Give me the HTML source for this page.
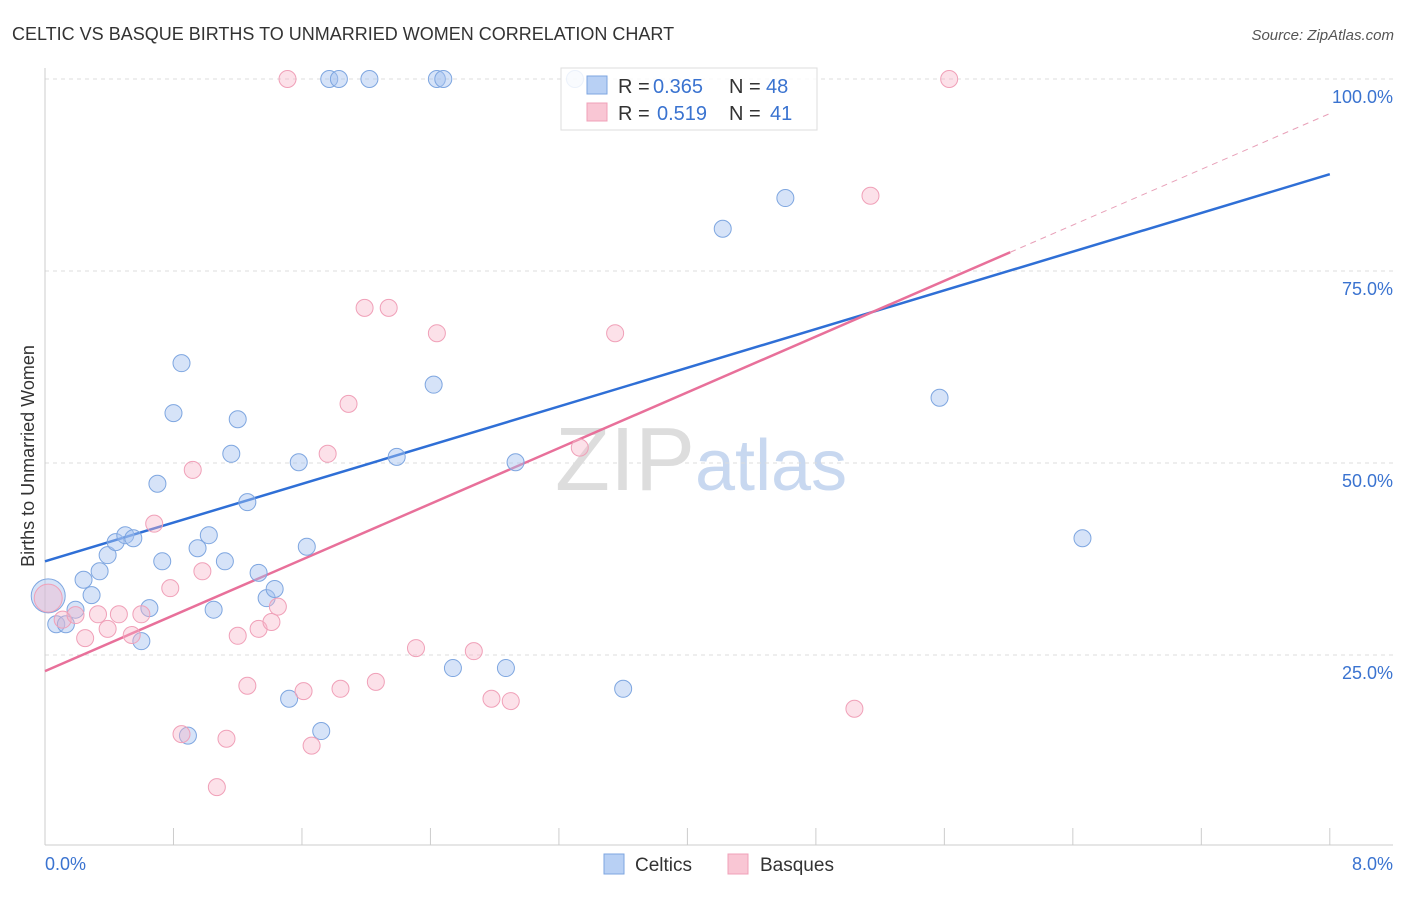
<!DOCTYPE html>
<html><head><meta charset="utf-8"><style>
body{margin:0;background:#fff;font-family:"Liberation Sans",sans-serif;}
svg text{font-family:"Liberation Sans",sans-serif;}
</style></head><body>
<svg id="chart" width="1406" height="892" xmlns="http://www.w3.org/2000/svg">
<text x="12" y="40" font-size="18" fill="#333">CELTIC VS BASQUE BIRTHS TO UNMARRIED WOMEN CORRELATION CHART</text>
<text x="1394" y="40" font-size="15" fill="#555" text-anchor="end" font-style="italic">Source: ZipAtlas.com</text>
<text x="555" y="490" font-size="90" fill="#ddd" font-family="Liberation Serif,serif">ZIP<tspan fill="#c8d8f0" font-family="Liberation Sans,sans-serif" font-size="72">atlas</tspan></text>
<g id="grid"></g>
<g id="axes"></g>
<g id="lines"></g>
<g id="points"></g>
<g>
<rect x="561" y="68" width="256" height="62" fill="rgba(255,255,255,0.85)" stroke="#ddd"/>
<rect x="587" y="76" width="20" height="18" fill="#b8d0f4" stroke="#7ea6e0"/>
<rect x="587" y="103" width="20" height="18" fill="#f9c6d4" stroke="#f0a0b8"/>
<text x="618" y="93" font-size="20" fill="#333">R =</text>
<text x="653" y="93" font-size="20" fill="#3a73d0">0.365</text>
<text x="729" y="93" font-size="20" fill="#333">N =</text>
<text x="766" y="93" font-size="20" fill="#3a73d0">48</text>
<text x="618" y="120" font-size="20" fill="#333">R =</text>
<text x="657" y="120" font-size="20" fill="#3a73d0">0.519</text>
<text x="729" y="120" font-size="20" fill="#333">N =</text>
<text x="770" y="120" font-size="20" fill="#3a73d0">41</text>
</g>
<g>
<rect x="604" y="854" width="20" height="20" fill="#b8d0f4" stroke="#7ea6e0"/>
<text x="635" y="871" font-size="19" fill="#333">Celtics</text>
<rect x="728" y="854" width="20" height="20" fill="#f9c6d4" stroke="#f0a0b8"/>
<text x="760" y="871" font-size="19" fill="#333">Basques</text>
</g>
<text transform="translate(34,456) rotate(-90)" font-size="18" fill="#333" text-anchor="middle">Births to Unmarried Women</text>
<text x="45" y="870" font-size="18" fill="#3a73d0">0.0%</text>
<text x="1393" y="870" font-size="18" fill="#3a73d0" text-anchor="end">8.0%</text>
</svg>
<script>
const yTicks=[100,75,50,25];
const yTickLabels=["100.0%","75.0%","50.0%","25.0%"];
const xTicks=[0,0.8,1.6,2.4,3.2,4.0,4.8,5.6,6.4,7.2,8.0];
const celticX=[0.02,0.07,0.13,0.19,0.24,0.29,0.34,0.39,0.44,0.50,0.55,0.60,0.65,0.70,0.73,0.80,0.85,0.89,0.95,1.02,1.05,1.12,1.16,1.20,1.26,1.33,1.38,1.43,1.52,1.58,1.63,1.72,1.77,1.83,2.02,2.19,2.42,2.44,2.48,2.54,2.87,2.93,3.30,3.60,4.22,4.61,5.57,6.46];
const celticY=[32.7,29.0,29.0,30.9,34.8,32.8,35.9,38.0,39.7,40.6,40.2,26.8,31.1,47.3,37.2,56.5,63.0,14.5,38.9,40.6,30.9,37.2,51.2,55.7,44.9,35.7,32.4,33.6,19.3,50.1,39.1,15.1,100,100,100,50.8,60.2,100,100,23.3,23.3,50.1,100,20.6,80.5,84.5,58.5,40.2];
const basqueX=[0.02,0.11,0.19,0.25,0.33,0.39,0.46,0.54,0.60,0.68,0.78,0.85,0.92,0.98,1.07,1.13,1.20,1.26,1.33,1.41,1.45,1.51,1.61,1.66,1.76,1.84,1.89,1.99,2.06,2.14,2.31,2.44,2.67,2.78,2.90,3.33,3.55,5.04,5.14,5.63];
const basqueY=[32.4,29.6,30.2,27.2,30.3,28.4,30.3,27.6,30.3,42.1,33.7,14.7,49.1,35.9,7.8,14.1,27.5,21.0,28.4,29.3,31.3,100,20.3,13.2,51.2,20.6,57.7,70.2,21.5,70.2,25.9,66.9,25.5,19.3,19.0,52.0,66.9,18.0,84.8,100];
const celticTrend=[37.2,87.6];
const basqueTrend=[22.9,95.5];
const basqueSolidEnd=6.01;

const NS="http://www.w3.org/2000/svg";
const X=v=>45+v*160.6, Y=v=>847-v*7.68;
function mk(tag,attrs,parent){const e=document.createElementNS(NS,tag);for(const k in attrs)e.setAttribute(k,attrs[k]);parent.appendChild(e);return e;}
const grid=document.getElementById('grid'),axes=document.getElementById('axes'),lines=document.getElementById('lines'),pts=document.getElementById('points');
yTicks.forEach((t,i)=>{
 const l=mk('line',{x1:45,x2:1393,y1:Y(t),y2:Y(t),stroke:'#ddd','stroke-dasharray':'4,4'},grid);
 
 
 const tx=mk('text',{x:1393,y:Y(t)+24,'font-size':18,fill:'#3a73d0','text-anchor':'end'},grid);
 tx.textContent=yTickLabels[i];
 
 
});
const ax=mk('line',{x1:45,x2:1393,y1:845,y2:845,stroke:'#ccc'},axes);


const ay=mk('line',{x1:45,x2:45,y1:68,y2:845,stroke:'#ccc'},axes);


xTicks.forEach(t=>{
 const l=mk('line',{x1:X(t),x2:X(t),y1:828,y2:845,stroke:'#ccc'},axes);
 
 
});
function dot(x,y,r,fill,stroke,name){
 const c=mk('circle',{cx:X(x),cy:Y(y),r:r,fill:fill,stroke:stroke,'stroke-width':1},pts);
 
 
}
celticX.forEach((x,i)=>dot(x,celticY[i],i===0?17:8.5,'rgba(164,194,240,0.45)','#7ea6e0','celtic-point'));
basqueX.forEach((x,i)=>dot(x,basqueY[i],i===0?14:8.5,'rgba(248,180,200,0.4)','#f0a0b8','basque-point'));
const bl=mk('line',{x1:X(0),y1:Y(celticTrend[0]),x2:X(8),y2:Y(celticTrend[1]),stroke:'#2f6fd6','stroke-width':2.5},lines);


const ps=(basqueTrend[1]-basqueTrend[0])/8, pe=basqueTrend[0]+ps*basqueSolidEnd;
const pl=mk('line',{x1:X(0),y1:Y(basqueTrend[0]),x2:X(basqueSolidEnd),y2:Y(pe),stroke:'#e8709a','stroke-width':2.5},lines);


const pd=mk('line',{x1:X(basqueSolidEnd),y1:Y(pe),x2:X(8),y2:Y(basqueTrend[1]),stroke:'#e8a0b8','stroke-width':1,'stroke-dasharray':'6,5'},lines);


</script>
</body></html>
